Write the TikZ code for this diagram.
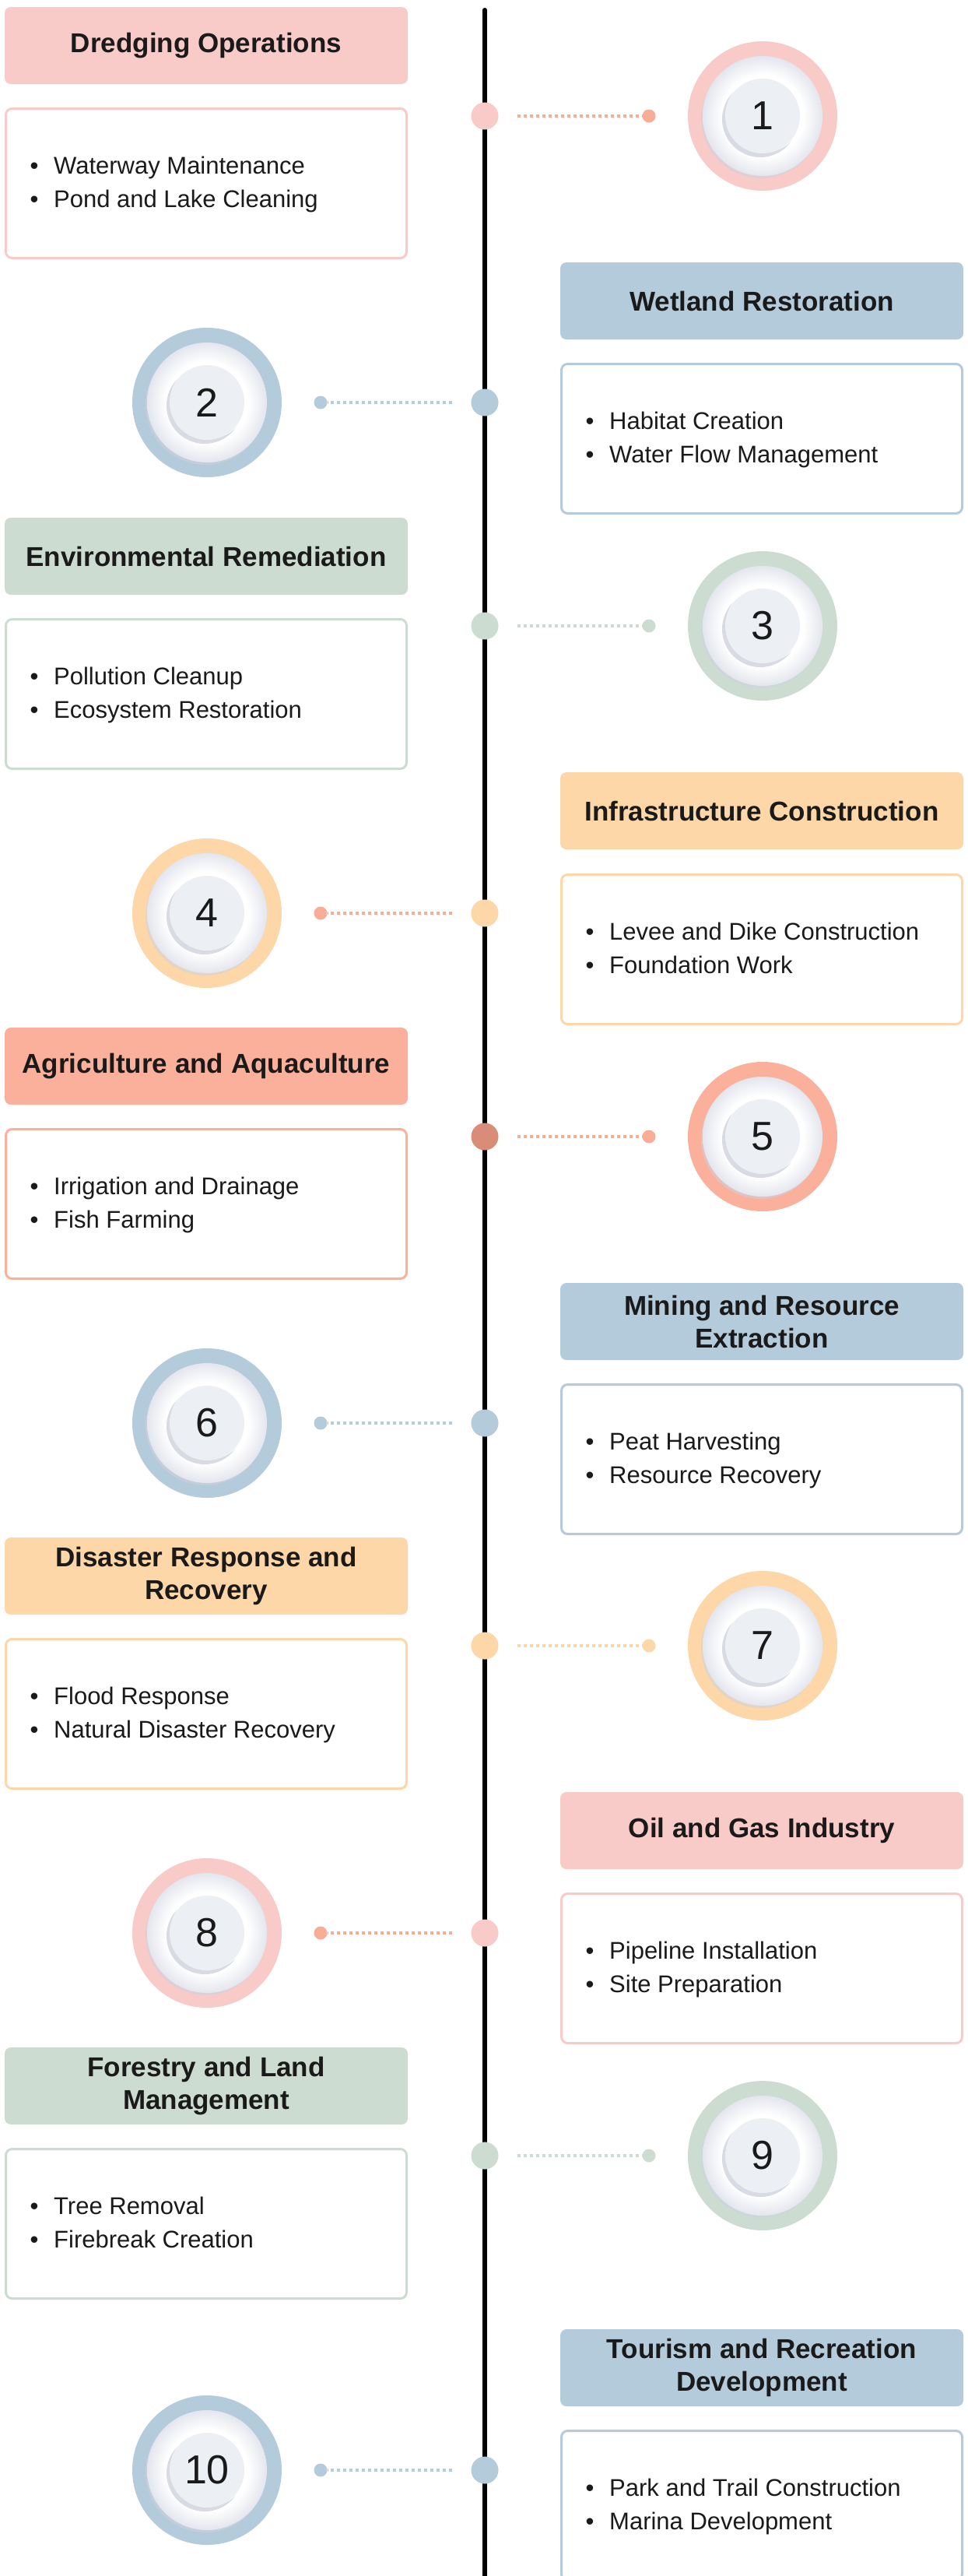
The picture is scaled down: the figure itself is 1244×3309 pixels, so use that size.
\documentclass[tikz,border=0pt]{standalone}
\usepackage{fontspec}
\setmainfont{Liberation Sans}
\definecolor{cPink}{HTML}{F9CBC8}
\definecolor{cBlue}{HTML}{B4CBDB}
\definecolor{cGreen}{HTML}{CCDCD1}
\definecolor{cPeach}{HTML}{FDD7A8}
\definecolor{cSalmon}{HTML}{FBB09B}
\definecolor{cConn}{HTML}{F9AC96}
\definecolor{cDark}{HTML}{D98C78}
\definecolor{discedge}{HTML}{E4E6EE}
\definecolor{innerc}{HTML}{ECEFF3}
\definecolor{shadowc}{HTML}{CFD2DE}
\definecolor{txtc}{HTML}{1A1A1A}
\pgfdeclareradialshading{discshade}{\pgfpoint{0bp}{0bp}}{color(0bp)=(white); color(17bp)=(white); color(25bp)=(discedge); color(50bp)=(discedge)}
% per-item connector and timeline-dot colours
\colorlet{conn1}{cConn}\colorlet{tdot1}{cPink}
\colorlet{conn2}{cBlue}\colorlet{tdot2}{cBlue}
\colorlet{conn3}{cGreen}\colorlet{tdot3}{cGreen}
\colorlet{conn4}{cConn}\colorlet{tdot4}{cPeach}
\colorlet{conn5}{cConn}\colorlet{tdot5}{cDark}
\colorlet{conn6}{cBlue}\colorlet{tdot6}{cBlue}
\colorlet{conn7}{cPeach}\colorlet{tdot7}{cPeach}
\colorlet{conn8}{cConn}\colorlet{tdot8}{cPink}
\colorlet{conn9}{cGreen}\colorlet{tdot9}{cGreen}
\colorlet{conn10}{cBlue}\colorlet{tdot10}{cBlue}
\newcommand\TLcore[9]{%
  \node[titlebox, fill=#5] (title#1) at ({\bx+259},{#2+49.5}) {#7};
  \node[detailbox, draw=#5] (detail#1) at ({\bx+259},{#3+97.5}) {};
  \node[bulletmark] (bua#1) at ({\bx+38},{#3+85}) {•};
  \node[bodytxt] (bta#1) at ({\bx+63},{#3+85}) {#8};
  \node[bulletmark] (bub#1) at ({\bx+38},{#3+128}) {•};
  \node[bodytxt] (btb#1) at ({\bx+63},{#3+128}) {#9};
  \node[ring, fill=#5] (ring#1) at (\cx,#4) {};
  \fill[shadowc, opacity=.55] ([shift={(-2pt,-3pt)}]ring#1.center) circle (77pt);
  \shade[shading=discshade] (ring#1.center) circle (77pt);
  \fill[shadowc, opacity=.8] ([shift={(-3pt,-4pt)}]ring#1.center) circle (49pt);
  \fill[white] ([shift={(2pt,2pt)}]ring#1.center) circle (49pt);
  \fill[innerc] (ring#1.center) circle (48pt);
  \node[numtxt] (num#1) at (ring#1.center) {#1};
  \node[tdot, fill=tdot#1] (td#1) at (623,#4) {};
  \node[edot, fill=conn#1] (ed#1) at (\ex,#4) {};
  \draw[conn, draw=conn#1] (td#1) -- (ed#1);
}
\newcommand\TLleft{\def\bx{6}\def\cx{980}\def\ex{834}\TLcore}
\newcommand\TLright{\def\bx{720}\def\cx{266}\def\ex{412}\TLcore}
\begin{document}
\begin{tikzpicture}[x=1pt,y=-1pt,
  titlebox/.style={rectangle, rounded corners=8pt, minimum width=518pt, minimum height=99pt,
    inner sep=0pt, align=center, text=txtc,
    font=\fontsize{35pt}{42pt}\selectfont\bfseries},
  detailbox/.style={rectangle, rounded corners=8pt, minimum width=515pt, minimum height=192pt,
    line width=3pt, fill=white, inner sep=0pt},
  bulletmark/.style={anchor=base, inner sep=0pt, text=txtc, font=\fontsize{31pt}{43pt}\selectfont},
  bodytxt/.style={anchor=base west, inner sep=0pt, text=txtc, font=\fontsize{31pt}{43pt}\selectfont},
  ring/.style={circle, minimum size=192pt, inner sep=0pt},
  numtxt/.style={inner sep=0pt, text=txtc, font=\fontsize{52pt}{52pt}\selectfont},
  tdot/.style={circle, minimum size=35pt, inner sep=0pt},
  edot/.style={circle, minimum size=17pt, inner sep=0pt},
  conn/.style={line width=4pt, dash pattern=on 4pt off 4pt, shorten <=24pt},
  timeline/.style={line width=6pt, line cap=round, black}]
\fill[white] (0,0) rectangle (1244,3309);
\useasboundingbox (0,0) rectangle (1244,3309);
\coordinate (tltop) at (623,13);
\coordinate (tlbot) at (623,3330);
\draw[timeline] (tltop) -- (tlbot);
\TLleft{1}{9}{138}{149}{cPink}{}{Dredging Operations}{Waterway Maintenance}{Pond and Lake Cleaning}
\TLright{2}{337}{466}{517}{cBlue}{}{Wetland Restoration}{Habitat Creation}{Water Flow Management}
\TLleft{3}{665}{794}{804}{cGreen}{}{Environmental Remediation}{Pollution Cleanup}{Ecosystem Restoration}
\TLright{4}{992}{1122}{1173}{cPeach}{}{Infrastructure Construction}{Levee and Dike Construction}{Foundation Work}
\TLleft{5}{1320}{1449}{1460}{cSalmon}{}{Agriculture and Aquaculture}{Irrigation and Drainage}{Fish Farming}
\TLright{6}{1648}{1777}{1828}{cBlue}{}{Mining and Resource\\Extraction}{Peat Harvesting}{Resource Recovery}
\TLleft{7}{1975}{2104}{2114}{cPeach}{}{Disaster Response and\\Recovery}{Flood Response}{Natural Disaster Recovery}
\TLright{8}{2302}{2431}{2483}{cPink}{}{Oil and Gas Industry}{Pipeline Installation}{Site Preparation}
\TLleft{9}{2630}{2759}{2769}{cGreen}{}{Forestry and Land\\Management}{Tree Removal}{Firebreak Creation}
\TLright{10}{2992}{3121}{3173}{cBlue}{}{Tourism and Recreation\\Development}{Park and Trail Construction}{Marina Development}
\end{tikzpicture}
\end{document}
